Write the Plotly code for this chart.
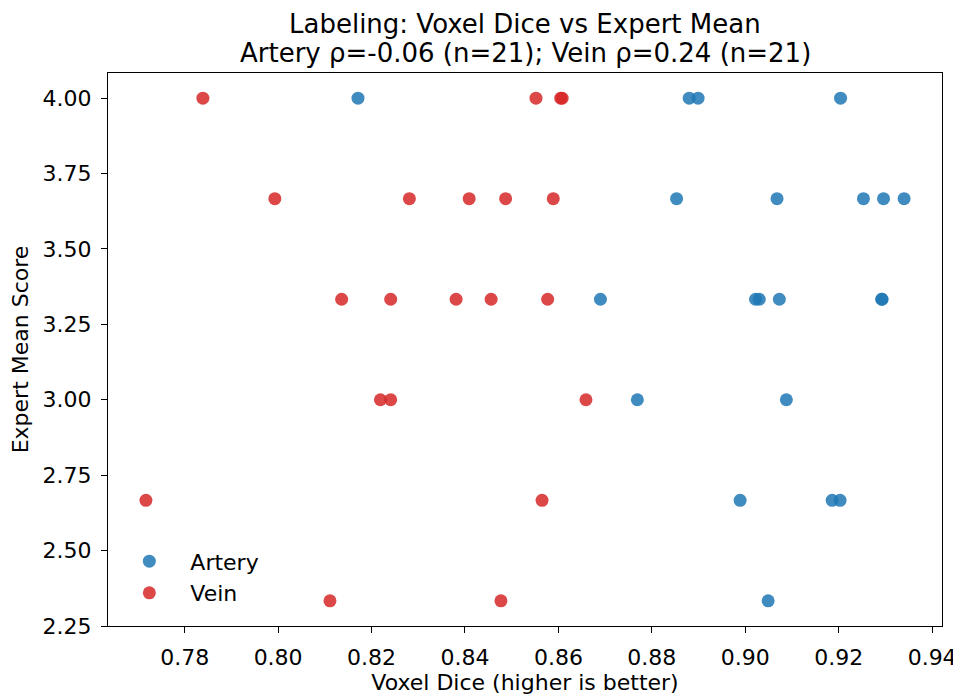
import plotly.graph_objects as go

artery_dice = [0.8171, 0.8880, 0.8899, 0.9204,
               0.8853, 0.9068, 0.9253, 0.9296, 0.9340,
               0.8690, 0.9022, 0.9030, 0.9073, 0.9292, 0.9293,
               0.8769, 0.9088,
               0.8989, 0.9186, 0.9203,
               0.9049]
artery_score = [4.0, 4.0, 4.0, 4.0,
                11/3, 11/3, 11/3, 11/3, 11/3,
                10/3, 10/3, 10/3, 10/3, 10/3, 10/3,
                3.0, 3.0,
                8/3, 8/3, 8/3,
                7/3]
vein_dice = [0.7839, 0.8552, 0.8605, 0.8608,
             0.7993, 0.8281, 0.8409, 0.8487, 0.8589,
             0.8136, 0.8241, 0.8381, 0.8456, 0.8577,
             0.8219, 0.8241, 0.8659,
             0.7717, 0.8565,
             0.8111, 0.8477]
vein_score = [4.0, 4.0, 4.0, 4.0,
              11/3, 11/3, 11/3, 11/3, 11/3,
              10/3, 10/3, 10/3, 10/3, 10/3,
              3.0, 3.0, 3.0,
              8/3, 8/3,
              7/3, 7/3]

x_ticks = [0.78, 0.80, 0.82, 0.84, 0.86, 0.88, 0.90, 0.92, 0.94]
y_ticks = [2.25, 2.50, 2.75, 3.00, 3.25, 3.50, 3.75, 4.00]

title_line1 = "Labeling: Voxel Dice vs Expert Mean"
title_line2 = "Artery ρ=-0.06 (n=21); Vein ρ=0.24 (n=21)"

font = "DejaVu Sans"
fig = go.Figure()
fig.add_trace(go.Scatter(x=artery_dice, y=artery_score, mode="markers", name="Artery",
                         marker=dict(color="#1f77b4", size=13, opacity=0.85, line=dict(width=0))))
fig.add_trace(go.Scatter(x=vein_dice, y=vein_score, mode="markers", name="Vein",
                         marker=dict(color="#d62728", size=13, opacity=0.85, line=dict(width=0))))

axis_common = dict(showgrid=False, zeroline=False, showline=True, linecolor="black", linewidth=1.3,
                   mirror=True, ticks="outside", ticklen=6, tickwidth=1.3, tickcolor="black",
                   tickfont=dict(family=font, size=22, color="black"))
xmin, xmax = min(artery_dice + vein_dice), max(artery_dice + vein_dice)
ymin, ymax = min(artery_score + vein_score), max(artery_score + vein_score)
xm, ym = 0.05 * (xmax - xmin), 0.05 * (ymax - ymin)

fig.update_xaxes(range=[xmin - xm, xmax + xm], tickvals=x_ticks,
                 ticktext=[f"{v:.2f}" for v in x_ticks], ticklabelstandoff=5,
                 title=dict(text="Voxel Dice (higher is better)", font=dict(family=font, size=22, color="black"), standoff=4),
                 **axis_common)
fig.update_yaxes(range=[ymin - ym, ymax + ym], tickvals=y_ticks,
                 ticktext=[f"{v:.2f}" for v in y_ticks], ticklabelstandoff=5,
                 title=dict(text="Expert Mean Score", font=dict(family=font, size=22, color="black"), standoff=7),
                 **axis_common)

for txt, shift in [(title_line1, 49), (title_line2, 20)]:
    fig.add_annotation(text=txt, x=0.5, y=1, xref="paper", yref="paper", xanchor="center",
                       yanchor="middle", yshift=shift, showarrow=False,
                       font=dict(family=font, size=26, color="black"))

fig.update_layout(
    width=961, height=696,
    margin=dict(l=99, r=26, t=65, b=78),
    plot_bgcolor="white", paper_bgcolor="white",
    legend=dict(x=0.0004, y=0.021, xanchor="left", yanchor="bottom", bgcolor="rgba(0,0,0,0)",
                font=dict(family=font, size=22, color="black"), itemwidth=72),
    font=dict(family=font),
)
fig.write_html("out.html", config={"displayModeBar": False})
